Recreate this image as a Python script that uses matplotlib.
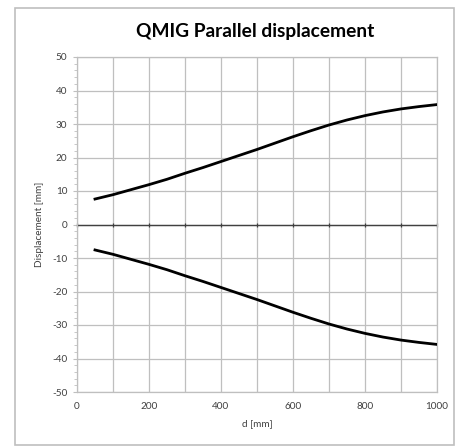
import matplotlib
matplotlib.use("Agg")
import matplotlib.pyplot as plt
from matplotlib.patches import Rectangle
from matplotlib.ticker import MultipleLocator, FuncFormatter

d_mm = [50, 100, 150, 200, 250, 300, 350, 400, 450, 500, 550, 600, 650, 700, 750, 800, 850, 900, 950, 1000]
disp_pos = [7.6, 8.9, 10.4, 11.9, 13.5, 15.3, 17.0, 18.8, 20.6, 22.4, 24.3, 26.2, 28.0, 29.7, 31.2, 32.5, 33.6, 34.5, 35.2, 35.8]
disp_neg = [-7.6, -8.9, -10.4, -11.9, -13.5, -15.3, -17.0, -18.8, -20.6, -22.4, -24.3, -26.2, -28.0, -29.7, -31.2, -32.5, -33.6, -34.5, -35.2, -35.8]

title = "QMIG Parallel displacement"
xlabel = "d [mm]"
ylabel = "Displacement [mm]"
x_ticks = [0, 200, 400, 600, 800, 1000]
y_ticks = [-50, -40, -30, -20, -10, 0, 10, 20, 30, 40, 50]

plt.rcParams['font.family'] = ['Lato', 'DejaVu Sans']
W, H = 455, 447
fig = plt.figure(figsize=(W / 100, H / 100), dpi=100)
fig.patch.set_facecolor('white')

# outer chart frame
fig.patches.append(Rectangle((15 / W, 1 - 445 / H), (454 - 15) / W, (445 - 8) / H,
                             transform=fig.transFigure, fill=False,
                             edgecolor='#bfbfbf', linewidth=1.2))

ax = fig.add_axes([77 / W, 1 - 392 / H, (437 - 77) / W, (392 - 57) / H])
gc = '#bfbfbf'
ax.set_xlim(0, 1000)
ax.set_ylim(-50, 50)
ax.xaxis.set_major_locator(MultipleLocator(100))
ax.xaxis.set_major_formatter(FuncFormatter(lambda v, p: str(int(round(v))) if int(round(v)) in x_ticks else ''))
ax.set_yticks(y_ticks, [str(v) for v in y_ticks])
ax.yaxis.set_minor_locator(MultipleLocator(2))
ax.grid(True, which='major', color=gc, linewidth=0.9)
ax.set_axisbelow(True)
for s in ax.spines.values():
    s.set_color(gc)
    s.set_linewidth(0.9)
ax.tick_params(axis='x', which='both', length=0, labelsize=7.2, colors='#404040', pad=7)
ax.tick_params(axis='y', which='major', length=3, color=gc, labelsize=7.2, labelcolor='#404040', pad=4)
ax.tick_params(axis='y', which='minor', length=2, color=gc)

# horizontal axis line at zero with crossing tick marks
ax.axhline(0, color='#404040', linewidth=1.0, zorder=2)
ax.plot(list(range(0, 1001, 100)), [0] * 11, linestyle='none', marker='|',
        markersize=3.5, color='#404040', markeredgewidth=0.9, zorder=2, clip_on=False)

ax.plot(d_mm, disp_pos, color='black', linewidth=2.0, zorder=3)
ax.plot(d_mm, disp_neg, color='black', linewidth=2.0, zorder=3)

ax.set_xlabel(xlabel, fontsize=7.2, color='#404040', labelpad=6)
ax.set_ylabel(ylabel, fontsize=7.2, color='#404040', labelpad=6)
fig.text((77 + 437) / 2 / W - 0.005, 1 - 32 / H, title, ha='center', va='center',
         fontsize=13.8, fontweight='bold', color='black')

fig.savefig('out.png', dpi=100)
